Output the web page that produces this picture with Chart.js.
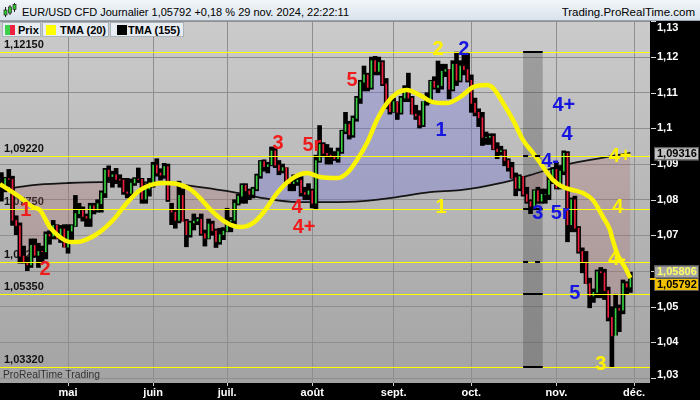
<!DOCTYPE html>
<html lang="fr">
<head>
<meta charset="UTF-8">
<title>EUR/USD CFD Journalier</title>
<script src="https://cdn.jsdelivr.net/npm/chart.js"></script>
<style>
  * { box-sizing: border-box; }
  body { margin: 0; width: 700px; height: 400px; overflow: hidden; background: #000;
         font-family: 'Liberation Sans', Arial, sans-serif; }
  #cadre { position: relative; width: 700px; height: 400px; }
  #graphique { position: absolute; left: 0; top: 0; }
  .entete { position: absolute; left: 0; top: 0; width: 700px; height: 21px;
            background: linear-gradient(#f2f6fa, #d9e2eb); border-bottom: 1px solid #9aa4ae;
            font-size: 11px; line-height: 11px; color: #000; }
  .entete .titre { position: absolute; left: 22px; top: 7px; }
  .entete .site { position: absolute; right: 5px; top: 7px; font-size: 11.5px; }
  .legende { position: absolute; top: 22px; height: 15px; background: #e7edf3;
             border: 1px solid #a9b1b9; font-size: 11px; font-weight: bold; }
  .legende span { position: absolute; top: 2px; line-height: 11px; }
  .legende i { position: absolute; top: 2px; width: 10px; height: 10px; }
  .filigrane { position: absolute; left: 3px; top: 370px; font-size: 10.3px; line-height: 10.3px; color: #333; }
</style>
</head>
<body>
<div id="cadre">
  <canvas id="graphique" width="700" height="400"></canvas>
  <div class="entete">
    <svg width="14" height="17" style="position:absolute;left:3px;top:2px">
      <line x1="2.5" y1="5" x2="2.5" y2="15" stroke="#222" stroke-width="1"/>
      <rect x="1" y="8" width="3" height="5" fill="#3c3" stroke="#222" stroke-width="0.7"/>
      <line x1="7" y1="3" x2="7" y2="13" stroke="#222" stroke-width="1"/>
      <rect x="5.5" y="5" width="3" height="6" fill="#3c3" stroke="#222" stroke-width="0.7"/>
      <line x1="11.5" y1="1" x2="11.5" y2="10" stroke="#222" stroke-width="1"/>
      <rect x="10" y="2.5" width="3" height="5" fill="#3c3" stroke="#222" stroke-width="0.7"/>
    </svg>
    <div class="titre">EUR/USD CFD Journalier 1,05792 +0,18 % 29 nov. 2024, 22:22:11</div>
    <div class="site">Trading.ProRealTime.com</div>
  </div>
  <div class="legende" style="left:2px;width:39px">
    <i style="left:2px;background:linear-gradient(90deg,#3ccf4a 50%,#ee2040 50%)"></i><span style="left:15px">Prix</span>
  </div>
  <div class="legende" style="left:42px;width:67px">
    <i style="left:3px;background:#ffff00"></i><span style="left:17px">TMA (20)</span>
  </div>
  <div class="legende" style="left:110px;width:74px">
    <i style="left:6px;background:#000"></i><span style="left:17px">TMA (155)</span>
  </div>
  <div class="filigrane">ProRealTime Trading</div>
</div>
<script>
// séances quotidiennes, index 0 = 5 avr. 2024, index 170 = 29 nov. 2024
const opens = [
  1.0835,1.0838,1.0859,1.0857,1.0742,1.0727,1.0642,1.0624,1.0617,1.0672,
  1.0644,1.0655,1.0654,1.0703,1.0698,1.0728,1.0692,1.0718,1.0667,1.0712,
  1.0727,1.0761,1.0770,1.0753,1.0748,1.0783,1.0771,1.0789,1.0819,1.0883,
  1.0865,1.0870,1.0857,1.0855,1.0822,1.0818,1.0847,1.0858,1.0857,1.0802,
  1.0830,1.0848,1.0897,1.0875,1.0869,1.0893,1.0770,1.0765,1.0742,1.0812,
  1.0740,1.0702,1.0735,1.0740,1.0745,1.0705,1.0692,1.0732,1.0713,1.0682,
  1.0702,1.0712,1.0740,1.0742,1.0790,1.0810,1.0840,1.0825,1.0815,1.0830,
  1.0867,1.0907,1.0893,1.0898,1.0937,1.0897,1.0882,1.0890,1.0850,1.0845,
  1.0850,1.0855,1.0820,1.0815,1.0825,1.0790,1.0910,1.0955,1.0930,1.0925,
  1.0920,1.0915,1.0935,1.0992,1.1012,1.0982,1.1028,1.1085,1.1130,1.1150,
  1.1115,1.1190,1.1160,1.1185,1.1125,1.1077,1.1047,1.1075,1.1045,1.1085,
  1.1110,1.1085,1.1040,1.1035,1.1010,1.1075,1.1075,1.1132,1.1115,1.1120,
  1.1160,1.1165,1.1110,1.1180,1.1135,1.1175,1.1165,1.1135,1.1070,1.1045,
  1.1030,1.0975,1.0975,1.0978,1.0942,1.0935,1.0937,1.0910,1.0890,1.0862,
  1.0832,1.0865,1.0815,1.0795,1.0782,1.0825,1.0796,1.0815,1.0815,1.0855,
  1.0885,1.0833,1.0880,1.0930,1.0730,1.0800,1.0720,1.0655,1.0625,1.0565,
  1.0530,1.0540,1.0598,1.0595,1.0545,1.0470,1.0418,1.0495,1.0490,1.0565,
  1.0555
];
const highs = [
  1.0876,1.0863,1.0885,1.0866,1.0755,1.0735,1.0670,1.0640,1.0690,1.0690,
  1.0678,1.0670,1.0710,1.0713,1.0742,1.0730,1.0728,1.0730,1.0730,1.0730,
  1.0812,1.0790,1.0780,1.0760,1.0790,1.0790,1.0800,1.0825,1.0888,1.0895,
  1.0880,1.0888,1.0870,1.0860,1.0860,1.0858,1.0862,1.0889,1.0860,1.0845,
  1.0860,1.0905,1.0915,1.0887,1.0902,1.0900,1.0790,1.0770,1.0852,1.0830,
  1.0745,1.0740,1.0760,1.0750,1.0760,1.0715,1.0746,1.0740,1.0718,1.0720,
  1.0722,1.0776,1.0750,1.0800,1.0815,1.0845,1.0845,1.0830,1.0835,1.0872,
  1.0910,1.0912,1.0905,1.0948,1.0945,1.0910,1.0900,1.0890,1.0860,1.0870,
  1.0870,1.0865,1.0835,1.0845,1.0830,1.0925,1.1008,1.0960,1.0955,1.0945,
  1.0935,1.0945,1.0995,1.1045,1.1020,1.1035,1.1090,1.1135,1.1175,1.1155,
  1.1200,1.1202,1.1200,1.1190,1.1140,1.1085,1.1085,1.1075,1.1090,1.1120,
  1.1155,1.1090,1.1065,1.1050,1.1075,1.1100,1.1135,1.1145,1.1189,1.1180,
  1.1180,1.1165,1.1190,1.1214,1.1190,1.1210,1.1210,1.1150,1.1085,1.1055,
  1.1045,1.0990,1.0985,1.0985,1.0960,1.0950,1.0940,1.0915,1.0905,1.0875,
  1.0870,1.0865,1.0835,1.0800,1.0828,1.0835,1.0830,1.0830,1.0870,1.0890,
  1.0905,1.0895,1.0937,1.0935,1.0805,1.0810,1.0725,1.0665,1.0655,1.0580,
  1.0550,1.0603,1.0610,1.0605,1.0555,1.0500,1.0535,1.0505,1.0575,1.0570,
  1.0597
];
const lows = [
  1.0796,1.0822,1.0837,1.0728,1.0702,1.0622,1.0622,1.0601,1.0610,1.0640,
  1.0610,1.0623,1.0634,1.0675,1.0690,1.0690,1.0680,1.0667,1.0650,1.0680,
  1.0725,1.0749,1.0740,1.0725,1.0725,1.0760,1.0765,1.0765,1.0806,1.0852,
  1.0835,1.0845,1.0835,1.0815,1.0805,1.0805,1.0840,1.0850,1.0790,1.0790,
  1.0810,1.0835,1.0866,1.0855,1.0860,1.0795,1.0730,1.0720,1.0735,1.0740,
  1.0668,1.0695,1.0715,1.0730,1.0700,1.0670,1.0690,1.0700,1.0666,1.0675,
  1.0688,1.0710,1.0710,1.0730,1.0785,1.0790,1.0790,1.0800,1.0805,1.0825,
  1.0860,1.0880,1.0875,1.0895,1.0890,1.0870,1.0875,1.0845,1.0825,1.0825,
  1.0840,1.0810,1.0800,1.0800,1.0777,1.0775,1.0905,1.0920,1.0900,1.0900,
  1.0910,1.0905,1.0930,1.0985,1.0970,1.0975,1.1020,1.1070,1.1105,1.1105,
  1.1110,1.1150,1.1150,1.1120,1.1055,1.1040,1.1045,1.1025,1.1040,1.1075,
  1.1075,1.1040,1.1025,1.1001,1.1005,1.1065,1.1070,1.1110,1.1100,1.1110,
  1.1145,1.1083,1.1105,1.1120,1.1130,1.1150,1.1130,1.1045,1.1035,1.1005,
  1.0952,1.0955,1.0955,1.0940,1.0915,1.0925,1.0895,1.0880,1.0860,1.0811,
  1.0825,1.0810,1.0790,1.0761,1.0775,1.0790,1.0790,1.0790,1.0800,1.0845,
  1.0830,1.0830,1.0870,1.0682,1.0710,1.0710,1.0650,1.0595,1.0565,1.0497,
  1.0512,1.0525,1.0525,1.0520,1.0460,1.0332,1.0420,1.0430,1.0480,1.0535,
  1.0540
];
const closes = [
  1.0838,1.0859,1.0857,1.0742,1.0727,1.0642,1.0624,1.0617,1.0672,1.0644,
  1.0655,1.0654,1.0703,1.0698,1.0728,1.0692,1.0718,1.0667,1.0712,1.0727,
  1.0761,1.0770,1.0753,1.0748,1.0783,1.0771,1.0789,1.0819,1.0883,1.0865,
  1.0870,1.0857,1.0855,1.0822,1.0818,1.0847,1.0858,1.0857,1.0802,1.0830,
  1.0848,1.0897,1.0875,1.0869,1.0893,1.0800,1.0765,1.0742,1.0812,1.0740,
  1.0702,1.0735,1.0740,1.0745,1.0705,1.0692,1.0732,1.0713,1.0682,1.0702,
  1.0712,1.0740,1.0742,1.0790,1.0810,1.0840,1.0825,1.0815,1.0830,1.0867,
  1.0907,1.0893,1.0898,1.0937,1.0897,1.0882,1.0890,1.0850,1.0845,1.0850,
  1.0855,1.0820,1.0815,1.0825,1.0790,1.0910,1.0955,1.0930,1.0925,1.0920,
  1.0915,1.0935,1.0992,1.1012,1.0982,1.1028,1.1085,1.1130,1.1150,1.1115,
  1.1190,1.1160,1.1185,1.1125,1.1077,1.1047,1.1075,1.1045,1.1085,1.1110,
  1.1085,1.1040,1.1035,1.1010,1.1075,1.1075,1.1132,1.1115,1.1120,1.1160,
  1.1165,1.1110,1.1180,1.1135,1.1175,1.1165,1.1135,1.1070,1.1045,1.1030,
  1.0975,1.0975,1.0978,1.0942,1.0935,1.0937,1.0910,1.0890,1.0862,1.0832,
  1.0865,1.0815,1.0795,1.0782,1.0825,1.0796,1.0815,1.0815,1.0855,1.0885,
  1.0833,1.0880,1.0930,1.0730,1.0800,1.0720,1.0655,1.0625,1.0565,1.0530,
  1.0540,1.0598,1.0595,1.0545,1.0470,1.0418,1.0495,1.0490,1.0565,1.0555,
  1.05792
];

// TMA (20) et TMA (155) (index de séance, prix)
const tma20X = [-0.4, 5.0, 8.5, 10.4, 13.1, 15.8, 18.5, 20.4, 22.6, 26.6, 30.2, 33.9, 37.5, 40.2,
  43.7, 47.5, 51.0, 52.9, 57.2, 61.0, 64.5, 68.0, 70.7, 74.5, 78.0, 82.6, 86.1, 90.7, 93.4,
  96.1, 98.8, 101.5, 104.2, 106.9, 109.6, 113.1, 116.6, 120.4, 124.0, 127.5, 131.2, 132.9,
  135.6, 138.3, 141.0, 143.7, 146.4, 149.1, 151.8, 154.5, 157.2, 159.9, 162.6, 164.5, 165.0,
  166.6, 168.5, 170];
const tma20Y = [1.08439, 1.08074, 1.07794, 1.07710, 1.07233, 1.06953, 1.06813, 1.06813, 1.06869,
  1.07093, 1.07430, 1.07906, 1.08271, 1.08411, 1.08467, 1.08439, 1.08299, 1.08130, 1.07654,
  1.07346, 1.07233, 1.07346, 1.07626, 1.08186, 1.08551, 1.08747, 1.08635, 1.08607, 1.08747,
  1.09112, 1.09588, 1.10233, 1.10709, 1.10990, 1.11074, 1.10934, 1.10738, 1.10709, 1.10878,
  1.11158, 1.11214, 1.11130, 1.10709, 1.10233, 1.09672, 1.09308, 1.08915, 1.08551, 1.08355,
  1.08271, 1.08186, 1.07990, 1.07514, 1.07149, 1.06953, 1.06448, 1.06112, 1.05806];
const tma155X = [-0.4, 8.5, 17.7, 26.6, 35.6, 44.8, 53.7, 62.6, 70.7, 79.9, 88.8, 97.7, 106.9,
  115.8, 124.0, 134.8, 142.9, 151.0, 160.4, 170];
const tma155Y = [1.08271, 1.08411, 1.08467, 1.08495, 1.08495, 1.08467, 1.08355, 1.08215, 1.08046,
  1.07934, 1.07934, 1.07962, 1.08074, 1.08215, 1.08271, 1.08467, 1.08691, 1.08943, 1.09140, 1.09316];

// axes
const moisIdx = [18, 41, 61, 84, 106, 127, 150, 171];
const moisLabels = ['mai', 'juin', 'juil.', 'août', 'sept.', 'oct.', 'nov.', 'déc.'];
const prixTicks = [1.03, 1.04, 1.05, 1.06, 1.07, 1.08, 1.09, 1.10, 1.11, 1.12, 1.13];
const prixLabels = ['1,03', '1,04', '1,05', '1,06', '1,07', '1,08', '1,09', '1,1', '1,11', '1,12', '1,13'];

// niveaux horizontaux
const niveaux = [1.1215, 1.0922, 1.0775, 1.0625, 1.0535, 1.0332];
const niveauxLabels = ['1,12150', '1,09220', '1,07750', '1,06250', '1,05350', '1,03320'];

// zone grise verticale
const zoneX = [141, 146.3];
const zoneY = [1.0328, 1.1217];

// comptage des vagues
const vagueTexte = ['1', '2', '3', '5r', '4', '4+', '5', '2', '1', '2', '1', '4+', '4', '4-', '3', '5r', '5', '4+', '4', '4-', '3'];
const vagueX = [6.6, 11.8, 74.8, 83.9, 79.9, 81.8, 94.8, 118, 118.8, 125, 118.8, 152, 152.9, 148.3, 145, 151, 155, 167.2, 166.6, 166.4, 162];
const vagueY = [1.0771, 1.0603, 1.0959, 1.0953, 1.0779, 1.0721, 1.1133, 1.1220, 1.0777, 1.1220, 1.0995, 1.1063, 1.0984, 1.0908, 1.0760, 1.0760, 1.0538, 1.0920, 1.0779, 1.0631, 1.0339];
const vagueCouleur = ['r', 'r', 'r', 'r', 'r', 'r', 'r', 'j', 'j', 'b', 'b', 'b', 'b', 'b', 'b', 'b', 'b', 'j', 'j', 'j', 'j'];
const couleurs = { r: '#f01c1c', j: '#fff200', b: '#1616e0' };

const POLICE = '"Liberation Sans", Arial, sans-serif';
const vert = '#38d040', rouge = '#ee1e3c';

function fmt(v) { return v.toFixed(5).replace('.', ','); }

const decor = {
  id: 'decor',
  beforeDraw(chart) {
    const { ctx, chartArea: a, width, height } = chart;
    ctx.save();
    ctx.fillStyle = '#000';
    ctx.fillRect(0, 0, width, height);
    const g = ctx.createLinearGradient(0, a.top, 0, a.bottom);
    g.addColorStop(0, '#cbcbcb');
    g.addColorStop(1, '#a3a3a3');
    ctx.fillStyle = g;
    ctx.fillRect(a.left, a.top, a.right - a.left, a.bottom - a.top);
    ctx.restore();
  },
  beforeDatasetsDraw(chart) {
    const { ctx, chartArea: a, scales: { x, y } } = chart;
    ctx.save();
    const x0 = x.getPixelForValue(zoneX[0]), x1 = x.getPixelForValue(zoneX[1]);
    const y0 = y.getPixelForValue(zoneY[1]), y1 = y.getPixelForValue(zoneY[0]);
    ctx.fillStyle = 'rgba(60,60,60,0.3)';
    ctx.fillRect(x0, y0, x1 - x0, y1 - y0);
    ctx.font = 'bold 11px ' + POLICE;
    ctx.fillStyle = '#111';
    ctx.textBaseline = 'alphabetic';
    niveaux.forEach((v, k) => ctx.fillText(niveauxLabels[k], a.left + 4, y.getPixelForValue(v) - 4));
    ctx.restore();
  },
  afterDatasetsDraw(chart) {
    const { ctx, chartArea: a, scales: { x, y } } = chart;
    ctx.save();
    // lignes jaunes
    ctx.strokeStyle = '#ffff00';
    ctx.lineWidth = 1;
    niveaux.forEach(v => {
      const py = Math.round(y.getPixelForValue(v)) + 0.5;
      ctx.beginPath(); ctx.moveTo(a.left, py); ctx.lineTo(a.right, py); ctx.stroke();
    });
    // repères noirs sur la zone grise
    const x0 = x.getPixelForValue(zoneX[0]), x1 = x.getPixelForValue(zoneX[1]);
    ctx.strokeStyle = '#000';
    ctx.lineWidth = 2;
    niveaux.forEach((v, k) => {
      const py = Math.round(y.getPixelForValue(v));
      ctx.setLineDash(k === 1 || k === 3 ? [5, 7] : []);
      ctx.beginPath(); ctx.moveTo(x0, py); ctx.lineTo(x1, py); ctx.stroke();
    });
    ctx.setLineDash([]);
    // vagues
    ctx.font = 'bold 20px ' + POLICE;
    ctx.textAlign = 'center';
    ctx.textBaseline = 'middle';
    vagueTexte.forEach((t, k) => {
      ctx.fillStyle = couleurs[vagueCouleur[k]];
      ctx.fillText(t, x.getPixelForValue(vagueX[k]), y.getPixelForValue(vagueY[k]));
    });
    ctx.restore();
  },
  afterDraw(chart) {
    const { ctx, chartArea: a, scales: { y } } = chart;
    ctx.save();
    ctx.font = 'bold 11px ' + POLICE;
    ctx.textBaseline = 'middle';
    prixTicks.forEach((v, k) => {
      const py = y.getPixelForValue(v);
      ctx.fillStyle = '#d8d8d8';
      ctx.fillRect(a.right + 1, Math.round(py), 5, 1);
      const ty = Math.min(Math.max(py, a.top + 8), a.bottom - 8);
      ctx.fillStyle = '#fff';
      ctx.fillText(prixLabels[k], a.right + 7, ty);
    });
    const boite = (txt, cy, fond, texte) => {
      ctx.fillStyle = fond;
      ctx.fillRect(a.right + 4, cy - 6.5, 45, 13);
      ctx.strokeStyle = '#555';
      ctx.lineWidth = 1;
      ctx.strokeRect(a.right + 4.5, cy - 6, 44, 12);
      ctx.fillStyle = texte;
      ctx.fillText(txt, a.right + 7, cy + 0.5);
    };
    const last155 = tma155Y[tma155Y.length - 1];
    const last20 = tma20Y[tma20Y.length - 1];
    const lastClose = closes[closes.length - 1];
    boite(fmt(last155), y.getPixelForValue(last155) + 1, '#c2c2c2', '#000');
    const cy = y.getPixelForValue(lastClose) + 6;
    boite(fmt(last20), cy - 12.5, '#a4a4a4', '#ffff66');
    boite(fmt(lastClose), cy, '#f2c200', '#000');
    ctx.fillStyle = '#f2c200';
    ctx.fillRect(a.right, Math.round(y.getPixelForValue(lastClose)), 6, 2);
    ctx.restore();
  }
};

const ptsClose = closes.map((c, i) => ({ x: i, y: c }));
const ptsHL = highs.map((h, i) => ({ x: i, y: [lows[i], h] }));
const ptsOC = opens.map((o, i) => ({ x: i, y: [o, closes[i]] }));
const coulOC = opens.map((o, i) => closes[i] >= o ? vert : rouge);

new Chart(document.getElementById('graphique'), {
  type: 'line',
  data: {
    datasets: [
      {
        data: ptsClose,
        borderWidth: 0,
        borderColor: 'rgba(0,0,0,0)',
        pointRadius: 0,
        tension: 0,
        fill: { target: 1, above: 'rgba(110,110,225,0.32)', below: 'rgba(175,100,100,0.26)' },
        order: 5
      },
      {
        data: tma155X.map((v, k) => ({ x: v, y: tma155Y[k] })),
        borderColor: '#151515',
        borderWidth: 1.8,
        pointRadius: 0,
        cubicInterpolationMode: 'monotone',
        fill: false,
        order: 4
      },
      {
        type: 'bar',
        data: ptsHL,
        backgroundColor: '#000',
        barThickness: 4,
        grouped: false,
        borderWidth: 0,
        order: 3
      },
      {
        type: 'bar',
        data: ptsOC,
        backgroundColor: coulOC,
        barThickness: 1,
        grouped: false,
        borderWidth: 0,
        order: 2
      },
      {
        data: tma20X.map((v, k) => ({ x: v, y: tma20Y[k] })),
        borderColor: '#fbf400',
        borderWidth: 4.5,
        pointRadius: 0,
        cubicInterpolationMode: 'monotone',
        fill: false,
        order: 1
      }
    ]
  },
  options: {
    responsive: false,
    animation: false,
    layout: { padding: { top: 20, left: 0, right: 0, bottom: 0 } },
    plugins: { legend: { display: false }, tooltip: { enabled: false } },
    scales: {
      x: {
        type: 'linear',
        min: -0.38,
        max: 175.3,
        offset: false,
        afterBuildTicks: s => { s.ticks = moisIdx.map(v => ({ value: v })); },
        afterFit: s => { s.height = 17; },
        ticks: {
          color: '#fff',
          font: { family: 'Liberation Sans', size: 11, weight: 'bold' },
          padding: 0,
          maxRotation: 0,
          autoSkip: false,
          callback: (v, i) => moisLabels[i]
        },
        grid: { color: '#8e8e8e', tickColor: '#d0d0d0', tickLength: 3, offset: false },
        border: { display: false }
      },
      y: {
        type: 'linear',
        position: 'right',
        min: 1.0286,
        max: 1.1304,
        afterBuildTicks: s => { s.ticks = prixTicks.map(v => ({ value: v })); },
        afterFit: s => { s.width = 50; },
        ticks: { display: false },
        grid: { color: '#8e8e8e', drawTicks: false },
        border: { display: false }
      }
    }
  },
  plugins: [decor]
});
</script>
</body>
</html>
